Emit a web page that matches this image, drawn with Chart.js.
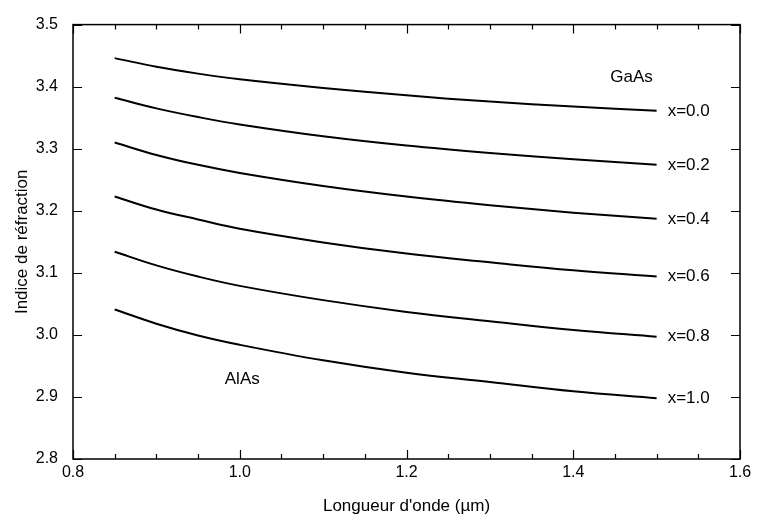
<!DOCTYPE html>
<html>
<head>
<meta charset="utf-8">
<script src="https://cdn.jsdelivr.net/npm/chart.js@4"></script>
<style>
html,body{margin:0;padding:0;background:#fff;}
#wrap{width:757px;height:524px;}
</style>
</head>
<body>
<div id="wrap"><canvas id="c" width="757" height="524"></canvas></div>
<script>
// Wavelength (µm)
const wavelengths = [0.85, 0.9, 0.95, 1.0, 1.1, 1.2, 1.3, 1.4, 1.5];
// Refractive index of AlxGa1-xAs
const n_x00 = [3.446, 3.432, 3.421, 3.412, 3.398, 3.386, 3.376, 3.368, 3.361];
const n_x02 = [3.382, 3.365, 3.351, 3.339, 3.320, 3.305, 3.293, 3.283, 3.274];
const n_x04 = [3.310, 3.290, 3.274, 3.261, 3.240, 3.223, 3.209, 3.197, 3.187];
const n_x06 = [3.223, 3.202, 3.186, 3.171, 3.149, 3.131, 3.117, 3.104, 3.094];
const n_x08 = [3.134, 3.112, 3.094, 3.079, 3.056, 3.037, 3.022, 3.008, 2.997];
const n_x10 = [3.041, 3.018, 2.999, 2.984, 2.959, 2.939, 2.924, 2.909, 2.898];
const seriesLabels = ["x=0.0", "x=0.2", "x=0.4", "x=0.6", "x=0.8", "x=1.0"];
const seriesValues = [n_x00, n_x02, n_x04, n_x06, n_x08, n_x10];
// Annotations
const annotations = [
  {text: "GaAs", x: 1.47, y: 3.415},
  {text: "AlAs", x: 1.003, y: 2.928}
];
const xMajorTicks = [0.8, 1.0, 1.2, 1.4, 1.6];

const FONT = "'Liberation Sans', Arial, Helvetica, sans-serif";

const datasets = seriesValues.map((vals, i) => ({
  label: seriesLabels[i],
  data: wavelengths.map((w, j) => ({x: w, y: vals[j]})),
  borderColor: '#000',
  borderWidth: 2,
  pointRadius: 0,
  fill: false,
  tension: 0.4
}));

const framePlugin = {
  id: 'frame',
  afterDatasetsDraw(chart) {
    const {ctx, chartArea: a, scales: {x, y}} = chart;
    ctx.save();
    ctx.strokeStyle = '#000';
    ctx.lineWidth = 1.5;
    ctx.strokeRect(a.left, a.top, a.right - a.left, a.bottom - a.top);
    ctx.lineWidth = 1.2;
    ctx.beginPath();
    // x ticks every 0.05, major every 0.2
    for (let k = 0; k <= 16; k++) {
      const v = 0.8 + k * 0.05;
      const px = Math.round(x.getPixelForValue(v)) + 0.5;
      const major = k % 4 === 0;
      const len = major ? 9 : 5;
      ctx.moveTo(px, a.bottom); ctx.lineTo(px, a.bottom - len);
      ctx.moveTo(px, a.top); ctx.lineTo(px, a.top + len);
    }
    // y ticks every 0.1
    for (let k = 0; k <= 7; k++) {
      const v = 2.8 + k * 0.1;
      const py = Math.round(y.getPixelForValue(v)) + 0.5;
      ctx.moveTo(a.left, py); ctx.lineTo(a.left + 9, py);
      ctx.moveTo(a.right, py); ctx.lineTo(a.right - 9, py);
    }
    ctx.stroke();
    // series labels
    ctx.fillStyle = '#000';
    ctx.font = '17px ' + FONT;
    ctx.textBaseline = 'middle';
    ctx.textAlign = 'left';
    seriesValues.forEach((vals, i) => {
      const last = wavelengths.length - 1;
      const px = x.getPixelForValue(wavelengths[last]) + 11;
      const py = y.getPixelForValue(vals[last]);
      ctx.fillText(seriesLabels[i], px, py);
    });
    ctx.textAlign = 'center';
    annotations.forEach(an => {
      ctx.fillText(an.text, x.getPixelForValue(an.x), y.getPixelForValue(an.y));
    });
    ctx.restore();
  }
};

new Chart(document.getElementById('c'), {
  type: 'line',
  data: {datasets},
  options: {
    responsive: false,
    animation: false,
    events: [],
    layout: {padding: {left: 0, right: 17, top: 14, bottom: 0}},
    plugins: {legend: {display: false}, tooltip: {enabled: false}},
    scales: {
      x: {
        type: 'linear', min: 0.8, max: 1.6,
        afterBuildTicks(scale) { scale.ticks = xMajorTicks.map(v => ({value: v})); },
        afterFit(scale) { scale.height = 65; },
        grid: {display: false, drawTicks: false},
        border: {display: false},
        ticks: {
          color: '#000', padding: 4, maxRotation: 0, autoSkip: false,
          font: {family: FONT, size: 16},
          callback: v => v.toFixed(1)
        },
        title: {display: true, text: "Longueur d'onde (µm)", color: '#000',
          font: {family: FONT, size: 17}, padding: {top: 0, bottom: 7}}
      },
      y: {
        type: 'linear', min: 2.8, max: 3.5,
        ticks: {
          stepSize: 0.1, color: '#000', padding: 15,
          font: {family: FONT, size: 16},
          callback: v => Number(v).toFixed(1)
        },
        afterFit(scale) { scale.width = 73; },
        grid: {display: false, drawTicks: false},
        border: {display: false},
        title: {display: true, text: 'Indice de réfraction', color: '#000',
          font: {family: FONT, size: 17}, padding: {top: 12, bottom: 0}}
      }
    }
  },
  plugins: [framePlugin]
});
</script>
</body>
</html>
